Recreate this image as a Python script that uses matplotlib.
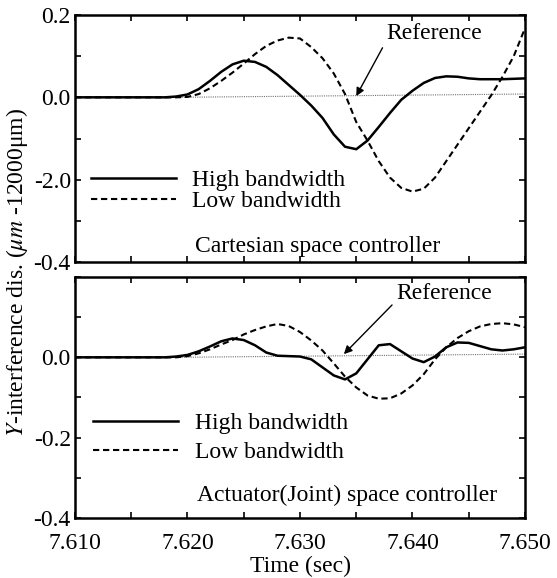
import numpy as np
import matplotlib
matplotlib.use('Agg')
import matplotlib.pyplot as plt
from matplotlib.ticker import MultipleLocator, FixedFormatter, FixedLocator

plt.rcParams['font.family'] = ['Liberation Serif', 'DejaVu Serif']
plt.rcParams['mathtext.fontset'] = 'stix'

# time axis, 1 ms steps
time = [7.610, 7.611, 7.612, 7.613, 7.614, 7.615, 7.616, 7.617, 7.618, 7.619,
        7.620, 7.621, 7.622, 7.623, 7.624, 7.625, 7.626, 7.627, 7.628, 7.629,
        7.630, 7.631, 7.632, 7.633, 7.634, 7.635, 7.636, 7.637, 7.638, 7.639,
        7.640, 7.641, 7.642, 7.643, 7.644, 7.645, 7.646, 7.647, 7.648, 7.649,
        7.650]

# Cartesian space controller
cart_high = [0, 0, 0, 0, 0, 0, 0, 0, 0, 0.002,
             0.007, 0.020, 0.040, 0.062, 0.080, 0.089, 0.086, 0.074, 0.054, 0.030,
             0.006, -0.020, -0.050, -0.090, -0.120, -0.126, -0.105, -0.072, -0.038, -0.006,
             0.016, 0.035, 0.047, 0.051, 0.050, 0.046, 0.044, 0.044, 0.044, 0.045,
             0.046]
cart_low = [0, 0, 0, 0, 0, 0, 0, 0, 0, 0,
            0.001, 0.008, 0.022, 0.040, 0.060, 0.082, 0.105, 0.125, 0.138, 0.145,
            0.143, 0.122, 0.095, 0.058, 0.008, -0.060, -0.105, -0.155, -0.195, -0.220,
            -0.229, -0.222, -0.195, -0.155, -0.115, -0.075, -0.035, 0.005, 0.050, 0.100,
            0.168]

# Actuator (joint) space controller
joint_high = [0, 0, 0, 0, 0, 0, 0, 0, 0, 0.002,
              0.006, 0.015, 0.027, 0.040, 0.047, 0.043, 0.030, 0.012, 0.004, 0.003,
              0.002, -0.005, -0.025, -0.045, -0.055, -0.040, -0.005, 0.030, 0.033, 0.015,
              -0.003, -0.012, 0.002, 0.025, 0.037, 0.036, 0.028, 0.020, 0.017, 0.020,
              0.025]
joint_low = [0, 0, 0, 0, 0, 0, 0, 0, 0, 0,
             0.003, 0.010, 0.020, 0.032, 0.043, 0.057, 0.068, 0.077, 0.083, 0.078,
             0.063, 0.042, 0.017, -0.015, -0.048, -0.075, -0.095, -0.103, -0.102, -0.090,
             -0.070, -0.042, -0.005, 0.025, 0.048, 0.065, 0.077, 0.083, 0.085, 0.082,
             0.075]

ref_t = [7.610, 7.619, 7.650]
ref_v = [0.0, 0.0, 0.008]

x_ticks = [7.610, 7.620, 7.630, 7.640, 7.650]
x_labels = ['7.610', '7.620', '7.630', '7.640', '7.650']
top_yticks = [-0.4, -0.2, 0.0, 0.2]
top_ylabels = ['-0.4', '-2.0', '0.0', '0.2']
bot_yticks = [-0.4, -0.2, 0.0, 0.2]
bot_ylabels = ['-0.4', '-0.2', '0.0', '']

W, H = 557, 578
fig = plt.figure(figsize=(W / 100, H / 100), dpi=100)
ax1 = fig.add_axes([75 / W, 1 - 262 / H, 450 / W, 247 / H])
ax2 = fig.add_axes([75 / W, 1 - 518 / H, 450 / W, 241 / H])

fs = 17

def style(ax, yt, yl):
    ax.set_xlim(7.610, 7.650)
    ax.set_ylim(-0.4, 0.2)
    ax.xaxis.set_major_locator(FixedLocator(x_ticks))
    ax.xaxis.set_minor_locator(MultipleLocator(0.005))
    ax.yaxis.set_major_locator(FixedLocator(yt))
    ax.yaxis.set_major_formatter(FixedFormatter(yl))
    ax.yaxis.set_minor_locator(MultipleLocator(0.1))
    ax.tick_params(which='both', direction='in', top=True, right=True,
                   labelsize=fs, width=1.2)
    ax.tick_params(which='major', length=4, pad=3)
    ax.tick_params(which='minor', length=4)
    for s in ax.spines.values():
        s.set_linewidth(1.8)

def draw(ax, hi, lo):
    ax.plot(ref_t, ref_v, color='0.45', lw=0.8, ls=(0, (1, 1)))
    ax.plot(time, hi, color='black', lw=1.8, label='High bandwidth')
    ax.plot(time, lo, color='black', lw=1.5, ls=(0, (3, 1.8)), label='Low bandwidth')

draw(ax1, cart_high, cart_low)
draw(ax2, joint_high, joint_low)
style(ax1, top_yticks, top_ylabels)
style(ax2, bot_yticks, bot_ylabels)
ax1.set_xticklabels([])
ax2.set_xticklabels(x_labels)
ax2.tick_params(axis='x', pad=11)

ax1.legend(loc='center left', bbox_to_anchor=(0.035, 0.288), frameon=False,
           fontsize=fs, handlelength=3.6, handletextpad=0.7, labelspacing=0.0,
           borderaxespad=0, borderpad=0)
ax2.legend(loc='center left', bbox_to_anchor=(0.04, 0.332), frameon=False,
           fontsize=fs, handlelength=3.6, handletextpad=0.7, labelspacing=0.3,
           borderaxespad=0, borderpad=0)

ax1.text(0.54, 0.061, 'Cartesian space controller', transform=ax1.transAxes,
         ha='center', va='center', fontsize=fs)
ax2.text(0.604, 0.095, 'Actuator(Joint) space controller', transform=ax2.transAxes,
         ha='center', va='center', fontsize=fs)

arrow = dict(arrowstyle='-|>', color='black', lw=1.0, mutation_scale=12,
             shrinkA=2, shrinkB=0, relpos=(0, 0.2))
ax1.annotate('Reference', xy=(7.6350, 0.003), xytext=(7.6377, 0.154),
             ha='left', va='center', fontsize=fs, arrowprops=arrow)
ax2.annotate('Reference', xy=(7.6339, 0.008), xytext=(7.6386, 0.158),
             ha='left', va='center', fontsize=fs, arrowprops=arrow)

fig.text(300 / W, 1 - 566 / H, 'Time (sec)', ha='center', va='center', fontsize=fs)
fig.text(17 / W, 1 - 272 / H, r'$Y$-interference dis. ($\mu m$ -12000μm)',
         rotation=90, ha='center', va='center', fontsize=17)

fig.savefig('out.png', dpi=100)
